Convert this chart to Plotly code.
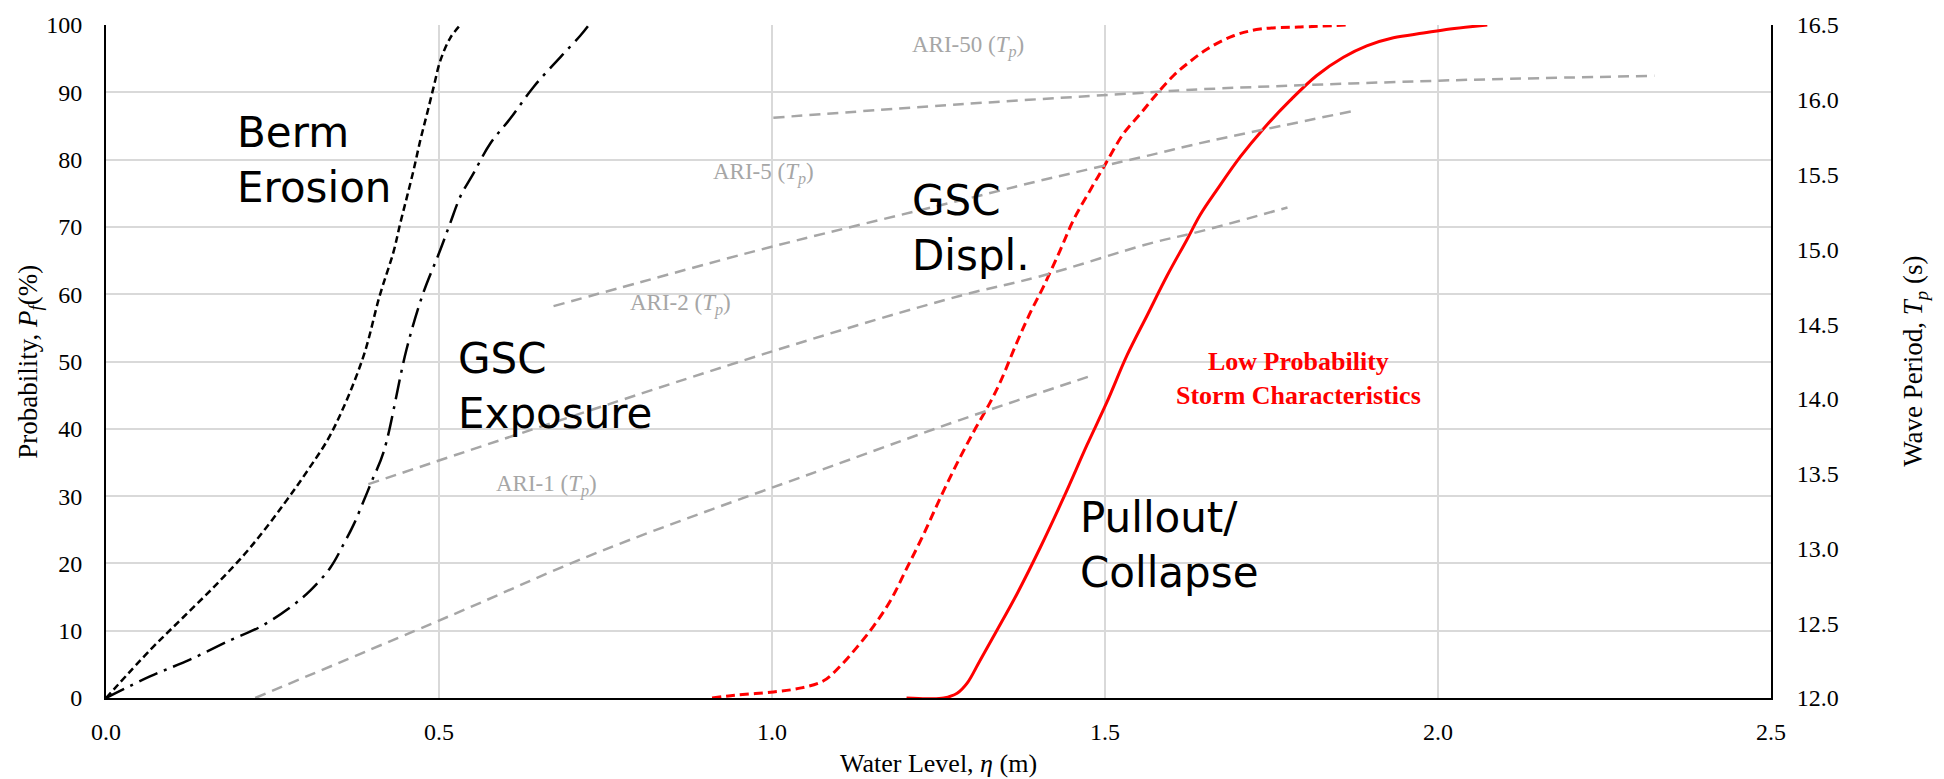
import plotly.graph_objects as go

# ---- failure probability curves: water level (m) vs probability (%) ----
berm_x = [0, 0.066, 0.116, 0.167, 0.217, 0.267, 0.302, 0.338, 0.385, 0.411,
          0.432, 0.442, 0.452, 0.462, 0.472, 0.482, 0.492, 0.502, 0.517, 0.532]
berm_p = [0, 7.1, 12.0, 17.0, 22.4, 28.8, 33.7, 39.3, 50.3, 59.8,
          66.4, 70.6, 74.5, 78.5, 82.9, 86.8, 90.8, 94.7, 98.1, 100]

exposure_x = [0, 0.066, 0.126, 0.187, 0.232, 0.277, 0.307, 0.337, 0.357, 0.372,
              0.387, 0.399, 0.417, 0.451, 0.475, 0.502, 0.517, 0.532, 0.552, 0.577,
              0.607, 0.642, 0.682, 0.712, 0.725]
exposure_p = [0, 3.2, 5.7, 8.6, 10.6, 13.5, 16.0, 19.4, 22.9, 25.8,
              29.3, 32.2, 36.6, 51.7, 59.8, 66.6, 70.6, 74.5, 78.0, 82.4,
              86.1, 90.8, 95.2, 98.4, 100]

displ_x = [0.910, 0.944, 1.002, 1.044, 1.078, 1.102, 1.128, 1.152, 1.178, 1.203,
           1.228, 1.253, 1.278, 1.303, 1.328, 1.343, 1.368, 1.388, 1.408, 1.433,
           1.453, 1.478, 1.501, 1.528, 1.553, 1.578, 1.603, 1.623, 1.653, 1.693,
           1.733, 1.793, 1.866]
displ_p = [0, 0.4, 0.9, 1.5, 2.6, 4.7, 7.6, 10.6, 14.5, 19.4,
           24.4, 29.8, 34.9, 39.6, 44.0, 47.0, 52.9, 57.3, 61.2, 66.6,
           71.1, 75.5, 79.4, 83.9, 86.8, 89.8, 92.5, 94.2, 96.4, 98.4,
           99.4, 99.7, 100]

pullout_x = [1.202, 1.233, 1.258, 1.278, 1.293, 1.313, 1.338, 1.368, 1.403, 1.438,
             1.473, 1.503, 1.533, 1.563, 1.593, 1.623, 1.643, 1.668, 1.703,
             1.738, 1.778, 1.818, 1.858, 1.893, 1.933, 1.978, 2.018, 2.074]
pullout_p = [0, -0.1, 0, 0.7, 2.2, 5.7, 10.1, 15.5, 22.4, 29.8,
             37.6, 44.0, 50.9, 56.8, 62.7, 68.1, 71.8, 75.5, 80.4,
             84.6, 88.8, 92.5, 95.2, 96.9, 98.1, 98.8, 99.4, 100]

# ---- storm wave period (s) vs water level (m) for each recurrence interval ----
ari1_x = [0.224, 0.517, 0.742, 1.102, 1.283, 1.483]
ari1_tp = [12.00, 12.55, 12.98, 13.57, 13.86, 14.16]

ari2_x = [0.394, 1.002, 1.283, 1.403, 1.568, 1.643, 1.774]
ari2_tp = [13.43, 14.32, 14.69, 14.82, 15.04, 15.12, 15.28]

ari5_x = [0.672, 0.802, 1.002, 1.313, 1.403, 1.568, 1.643, 1.878]
ari5_tp = [14.62, 14.78, 15.02, 15.36, 15.46, 15.63, 15.71, 15.93]

ari50_x = [1.002, 1.283, 1.568, 1.643, 2.018, 2.325]
ari50_tp = [15.88, 15.97, 16.05, 16.07, 16.13, 16.16]

ari_labels = ["ARI-1", "ARI-2", "ARI-5", "ARI-50"]
ari_label_x = [0.661, 0.862, 0.987, 1.294]
ari_label_p = [31.6, 58.5, 78.0, 96.8]

mode_labels = ["Berm<br>Erosion", "GSC<br>Exposure", "GSC<br>Displ.", "Pullout/<br>Collapse"]
mode_label_x = [0.194, 0.525, 1.2065, 1.460]
mode_label_p = [80.0, 46.4, 69.8, 22.8]

x_ticks = [0, 0.5, 1.0, 1.5, 2.0, 2.5]
p_ticks = list(range(0, 101, 10))
tp_ticks = [12.0, 12.5, 13.0, 13.5, 14.0, 14.5, 15.0, 15.5, 16.0, 16.5]

SERIF = "Liberation Serif, Times New Roman, serif"
SANS = "DejaVu Sans, Verdana, sans-serif"
GRAY = "#a6a6a6"
RED = "#ff0000"

fig = go.Figure()

# recurrence-interval wave period lines (secondary axis)
for xs, ts in [(ari1_x, ari1_tp), (ari2_x, ari2_tp), (ari5_x, ari5_tp), (ari50_x, ari50_tp)]:
    fig.add_trace(go.Scatter(
        x=xs, y=ts, yaxis="y2", mode="lines", line_shape="spline",
        line=dict(color=GRAY, width=2.5, dash="11px,7px"), hoverinfo="skip"))

# failure mode curves
fig.add_trace(go.Scatter(
    x=berm_x, y=berm_p, mode="lines", line_shape="spline", name="Berm Erosion",
    line=dict(color="black", width=2.5, dash="7px,4px")))
fig.add_trace(go.Scatter(
    x=exposure_x, y=exposure_p, mode="lines", line_shape="spline", name="GSC Exposure",
    line=dict(color="black", width=2.5, dash="20px,7px,3px,7px")))
fig.add_trace(go.Scatter(
    x=displ_x, y=displ_p, mode="lines", line_shape="spline", name="GSC Displ.",
    line=dict(color=RED, width=3, dash="9px,5px")))
fig.add_trace(go.Scatter(
    x=pullout_x, y=pullout_p, mode="lines", line_shape="spline", name="Pullout/Collapse",
    line=dict(color=RED, width=3)))

annotations = []
for lab, lx, lp in zip(ari_labels, ari_label_x, ari_label_p):
    annotations.append(dict(
        x=lx, y=lp, xref="x", yref="y", showarrow=False,
        text=f"{lab} (<i>T<sub>p</sub></i>)",
        font=dict(family=SERIF, size=23, color=GRAY),
        xanchor="center", yanchor="middle"))

for lab, lx, lp in zip(mode_labels, mode_label_x, mode_label_p):
    annotations.append(dict(
        x=lx, y=lp, xref="x", yref="y", showarrow=False, text=lab,
        font=dict(family=SANS, size=42, color="black"),
        xanchor="left", yanchor="middle", align="left"))

annotations.append(dict(
    x=1.790, y=47.5, xref="x", yref="y", showarrow=False,
    text="<b>Low Probability<br>Storm Characteristics</b>",
    font=dict(family=SERIF, size=26, color=RED),
    xanchor="center", yanchor="middle", align="center"))

# axis titles
annotations.append(dict(
    x=0.5, y=-0.098, xref="paper", yref="paper", showarrow=False,
    text="Water Level, <i>η</i> (m)",
    font=dict(family=SERIF, size=26, color="black"),
    xanchor="center", yanchor="middle"))
annotations.append(dict(
    x=-0.0461, y=0.5, xref="paper", yref="paper", showarrow=False,
    text="Probability, <i>P<sub>f</sub></i>(%)", textangle=-90,
    font=dict(family=SERIF, size=27, color="black"),
    xanchor="center", yanchor="middle"))
annotations.append(dict(
    x=1.0861, y=0.5, xref="paper", yref="paper", showarrow=False,
    text="Wave Period, <i>T<sub>p</sub></i> (s)", textangle=-90,
    font=dict(family=SERIF, size=27, color="black"),
    xanchor="center", yanchor="middle"))

fig.update_layout(
    width=1944, height=779,
    margin=dict(l=106, r=173, t=21, b=81, pad=0),
    paper_bgcolor="white", plot_bgcolor="white",
    showlegend=False,
    annotations=annotations,
    xaxis=dict(
        range=[0, 2.5], tickvals=x_ticks, tickformat=".1f",
        showgrid=True, gridcolor="#d9d9d9", gridwidth=1.5,
        showline=True, linecolor="black", linewidth=2, zeroline=False,
        ticks="", ticklabelstandoff=11,
        tickfont=dict(family=SERIF, size=24, color="black")),
    yaxis=dict(
        range=[0, 100], tickvals=p_ticks,
        showgrid=True, gridcolor="#d9d9d9", gridwidth=1.5,
        showline=True, linecolor="black", linewidth=2, zeroline=False,
        ticks="", ticklabelstandoff=17,
        tickfont=dict(family=SERIF, size=24, color="black")),
    yaxis2=dict(
        range=[12, 16.5], tickvals=tp_ticks, tickformat=".1f",
        overlaying="y", side="right", showgrid=False,
        showline=True, linecolor="black", linewidth=2, zeroline=False,
        ticks="", ticklabelstandoff=19,
        tickfont=dict(family=SERIF, size=24, color="black")),
)

fig.write_html("out.html")
